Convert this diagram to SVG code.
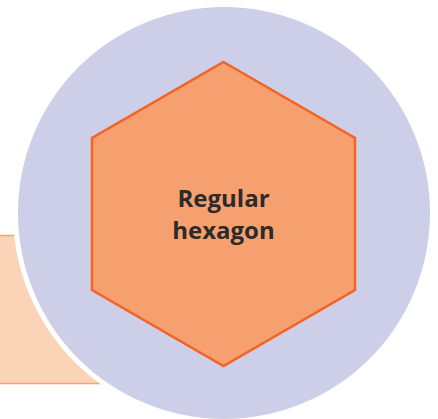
<svg xmlns="http://www.w3.org/2000/svg" width="438" height="419" viewBox="0 0 438 419">
<style>
.lbl{font-family:"Open Sans","Lato","Liberation Sans",sans-serif;font-weight:700;font-size:24px;fill:#2b2b2b;text-anchor:middle}
</style>
<rect width="438" height="419" fill="#ffffff"/>
<g id="card">
<rect x="-2" y="235" width="230" height="149" fill="#FBD4B8"/>
<line x1="-2" y1="235.5" x2="228" y2="235.5" stroke="#F5A375" stroke-width="1.5"/>
<line x1="-2" y1="383.5" x2="228" y2="383.5" stroke="#F5A375" stroke-width="1.5"/>
</g>
<g id="circle">
<circle cx="224" cy="213" r="211" fill="#ffffff"/>
<circle cx="224" cy="213" r="206" fill="#CDCFE8"/>
</g>
<g id="hexagon">
<polygon points="223.5,62 355,138 355,290 223.5,366 92,290 92,138" fill="#F7A06F" stroke="#F26324" stroke-width="2.5" stroke-linejoin="miter"/>
<text class="lbl" x="223.5" y="207">Regular</text>
<text class="lbl" x="223.5" y="239">hexagon</text>
</g>
<g id="connectors"/>
</svg>
